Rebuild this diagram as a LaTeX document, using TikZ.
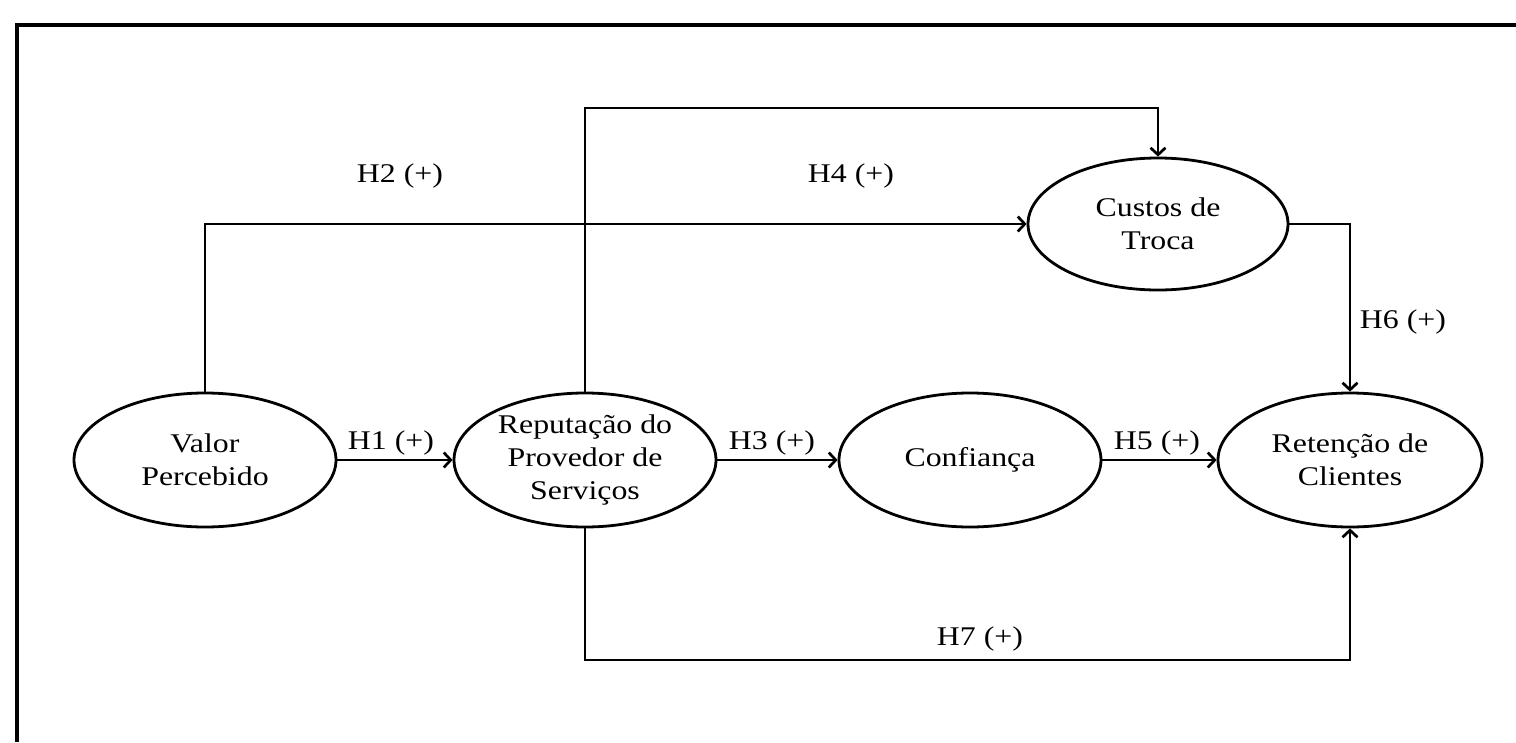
\documentclass[tikz,border=0pt]{standalone}
\usepackage{fontspec}
\setmainfont{Liberation Serif}[FakeStretch=1.18]
\usetikzlibrary{arrows.meta,shapes.geometric}
\begin{document}
\begin{tikzpicture}[x=1pt,y=-1pt,
  txt/.style={font=\fontsize{27}{33}\selectfont},
  construct/.style={draw, ellipse, line width=2.8pt, minimum width=262pt,
    minimum height=134pt, inner sep=0pt, align=center, txt},
  link/.style={line width=2.7pt,
    -{Straight Barb[length=7pt,width=15pt,line width=2.7pt]}},
  hlabel/.style={txt, inner sep=0pt}]
\useasboundingbox (0,0) rectangle (1516,742);
% frame
\draw[line width=3.4pt] (17,742) -- (17,25) -- (1516,25);

% constructs
\node[construct] (vp) at (205,460) {Valor\\Percebido};
\node[construct] (rp) at (585,460) {Reputação do\\Provedor de\\Serviços};
\node[construct] (cf) at (970,460) {Confiança};
\node[construct, minimum width=264pt] (rc) at (1350,460) {Retenção de\\Clientes};
\node[construct, minimum width=260pt, minimum height=132pt] (ct) at (1158,224) {Custos de\\Troca};

% helper coordinates for the routed paths
\coordinate (h4y) at (0,108);
\coordinate (h7) at (1350,660);

% hypotheses
\draw[link] (vp.east) -- (rp.west);
\draw[link] (rp.east) -- (cf.west);
\draw[link] (cf.east) -- (rc.west);
\draw[link] (vp.north) |- (ct.west);
\draw[link] (rp.north) |- (ct.north |- h4y) -- (ct.north);
\draw[link] (ct.east) -| (rc.north);
\draw[link] (rp.south) |- (h7) -- (rc.south);

% labels
\node[hlabel] (l1) at (391,443) {H1 (+)};
\node[hlabel] (l2) at (400,176) {H2 (+)};
\node[hlabel] (l3) at (772,443) {H3 (+)};
\node[hlabel] (l4) at (851,176) {H4 (+)};
\node[hlabel] (l5) at (1157,443) {H5 (+)};
\node[hlabel] (l6) at (1403,322) {H6 (+)};
\node[hlabel] (l7) at (980,639) {H7 (+)};
\end{tikzpicture}
\end{document}
